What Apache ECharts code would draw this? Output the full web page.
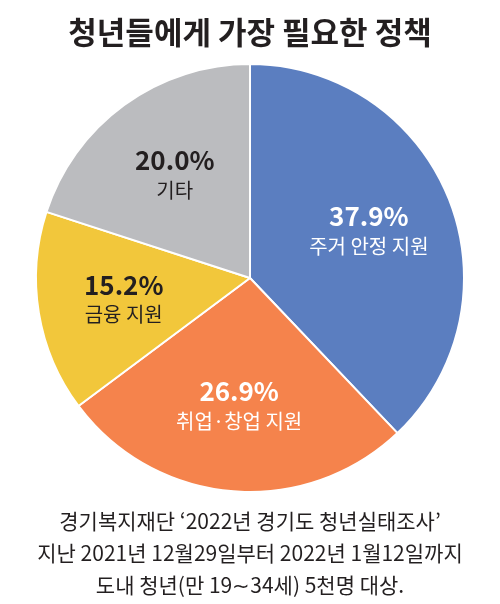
<!DOCTYPE html>
<html>
<head>
<meta charset="utf-8">
<script src="https://cdn.jsdelivr.net/npm/echarts@6/dist/echarts.min.js"></script>
<style>
  html, body { margin: 0; padding: 0; background: #fff; }
  #chart { width: 500px; height: 604px; }
</style>
</head>
<body>
<div id="chart"></div>
<script>
// 정책 항목, 응답 비율(%)
var categories = ['주거 안정 지원', '취업·창업 지원', '금융 지원', '기타'];
var shares = [37.9, 26.9, 15.2, 20.0];
var sliceColors = ['#5b7ec0', '#f5834c', '#f2c73b', '#bbbcbf'];
var labelColors = ['#ffffff', '#ffffff', '#231f20', '#231f20'];

var footerLines = [
    '경기복지재단 ‘2022년 경기도 청년실태조사’',
    '지난 2021년 12월29일부터 2022년 1월12일까지',
    '도내 청년(만 19∼34세) 5천명 대상.'
];

var FONT = '"Noto Sans CJK KR", "Noto Sans", sans-serif';

var pieData = categories.map(function (name, i) {
    return {name: name, value: shares[i], itemStyle: {color: sliceColors[i]}};
});

// 라벨 전용 투명 파이 (라벨을 조각 중심보다 바깥쪽에 두기 위해)
var labelData = categories.map(function (name, i) {
    return {
        name: name, value: shares[i],
        label: {color: labelColors[i]}
    };
});

var chart = echarts.init(document.getElementById('chart'), null, {renderer: 'canvas'});
chart.setOption({
    backgroundColor: '#ffffff',
    animation: false,
    title: {
        text: '청년들에게 가장 필요한 정책',
        left: 'center', top: 12,
        textStyle: {fontFamily: FONT, fontSize: 31, fontWeight: 'bold', color: '#231f20'}
    },
    graphic: [{
        type: 'text',
        x: 250, y: 505,
        style: {
            text: footerLines.join('\n'),
            align: 'center',
            verticalAlign: 'top',
            fontFamily: FONT, fontSize: 21, lineHeight: 32,
            fill: '#231f20'
        }
    }],
    series: [
        {
            type: 'pie',
            center: [250, 278],
            radius: [0, 214],
            startAngle: 90,
            clockwise: true,
            silent: true,
            label: {show: false},
            labelLine: {show: false},
            itemStyle: {borderColor: '#ffffff', borderWidth: 2},
            data: pieData
        },
        {
            type: 'pie',
            center: [250, 278],
            radius: [36, 214],
            startAngle: 90,
            clockwise: true,
            silent: true,
            itemStyle: {color: 'rgba(0,0,0,0)'},
            labelLine: {show: false},
            label: {
                show: true,
                position: 'inside',
                formatter: function (p) {
                    return '{pct|' + p.value.toFixed(1) + '%}\n{name|' + p.name + '}';
                },
                rich: {
                    pct: {fontFamily: FONT, fontSize: 26, fontWeight: 'bold', lineHeight: 32},
                    name: {fontFamily: FONT, fontSize: 20, lineHeight: 28}
                }
            },
            data: labelData
        }
    ]
});
</script>
</body>
</html>
